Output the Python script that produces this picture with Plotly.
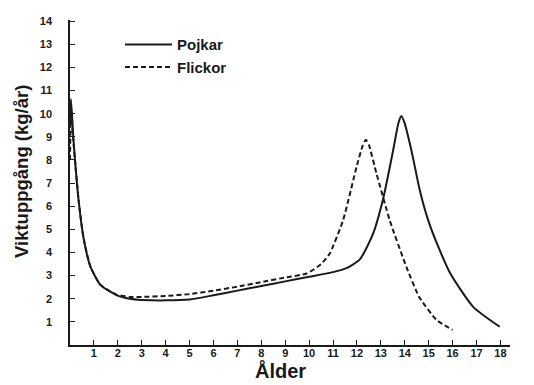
import plotly.graph_objects as go

# Data
boys_age = [0.0, 0.04, 0.15, 0.36, 0.57, 0.85, 1.27, 1.94, 2.5, 3.0, 4.0, 5.0, 6.0, 7.0, 8.0, 9.0,
            10.0, 11.0, 11.56, 12.12, 12.67, 13.09, 13.51, 13.74, 13.86, 13.99, 14.28, 14.63, 14.98, 15.4,
            15.9, 16.86, 17.97]
boys_gain = [9.6, 10.63, 8.8, 6.25, 4.6, 3.4, 2.6, 2.16, 2.0, 1.95, 1.93, 1.97, 2.15, 2.35, 2.55, 2.75,
             2.95, 3.15, 3.32, 3.7, 4.8, 6.3, 8.4, 9.62, 9.9, 9.6, 8.4, 6.68, 5.39, 4.25,
             3.1, 1.65, 0.79]

girls_age = [0.0, 0.04, 0.15, 0.36, 0.57, 0.85, 1.27, 1.94, 2.5, 3.0, 4.0, 5.0, 6.0, 7.0, 8.0, 9.0,
             9.9, 10.5, 10.86, 11.42, 11.98, 12.24, 12.37, 12.5, 12.82, 13.37, 14.07, 14.6, 15.33, 16.0]
girls_gain = [8.0, 9.9, 8.7, 6.25, 4.6, 3.4, 2.6, 2.18, 2.08, 2.08, 2.12, 2.2, 2.35, 2.52, 2.72, 2.92,
              3.09, 3.5, 3.95, 5.39, 7.69, 8.62, 8.87, 8.65, 7.4, 5.39, 3.37, 2.08, 1.08, 0.65]

x_ticks = list(range(1, 19))
y_ticks = list(range(1, 15))

series_names = ["Pojkar", "Flickor"]
x_title = "Ålder"
y_title = "Viktuppgång (kg/år)"

ink = "#1a1a1a"
font_family = "Liberation Sans, Arial, sans-serif"

# The page body adds an 8px offset; size and margins compensate for it.
fig = go.Figure()
fig.add_trace(go.Scatter(x=boys_age, y=boys_gain, mode="lines", name=series_names[0],
                         line=dict(color=ink, width=2, shape="spline", smoothing=0.6)))
fig.add_trace(go.Scatter(x=girls_age, y=girls_gain, mode="lines", name=series_names[1],
                         line=dict(color=ink, width=2, dash="5px,3px", shape="spline", smoothing=0.5)))

fig.update_layout(
    width=526, height=377,
    margin=dict(l=62, r=24, t=12, b=40, autoexpand=False),
    paper_bgcolor="white", plot_bgcolor="white",
    font=dict(family=font_family, color=ink),
    showlegend=True,
    legend=dict(x=0.1136, y=0.975, xanchor="left", yanchor="top",
                font=dict(size=15, family=font_family, weight="bold", color=ink),
                bgcolor="rgba(0,0,0,0)", tracegroupgap=0, itemwidth=47),
    xaxis=dict(range=[0, 18.4], tickvals=x_ticks, ticks="inside", ticklen=5, tickwidth=1.2,
               tickcolor=ink, showline=True, linecolor=ink, linewidth=1.5, showgrid=False,
               zeroline=False, tickfont=dict(size=11, weight="bold", color=ink),
               ticklabelstandoff=-3),
    yaxis=dict(range=[0, 14.05], tickvals=y_ticks, ticks="inside", ticklen=5, tickwidth=1.2,
               tickcolor=ink, showline=True, linecolor=ink, linewidth=1.5, showgrid=False,
               zeroline=False, tickfont=dict(size=11, weight="bold", color=ink),
               ticklabelstandoff=14),
    annotations=[
        dict(text=x_title, xref="paper", yref="paper", x=(280 - 70) / 440, y=-(370 - 345) / 325,
             xanchor="center", yanchor="middle", showarrow=False,
             font=dict(size=20, weight="bold", color=ink)),
        dict(text=y_title, xref="paper", yref="paper", x=-(70 - 21) / 440, y=(345 - 172) / 325,
             xanchor="center", yanchor="middle", showarrow=False, textangle=-90,
             font=dict(size=18.5, weight="bold", color=ink)),
    ],
)

fig.write_html("out.html")
